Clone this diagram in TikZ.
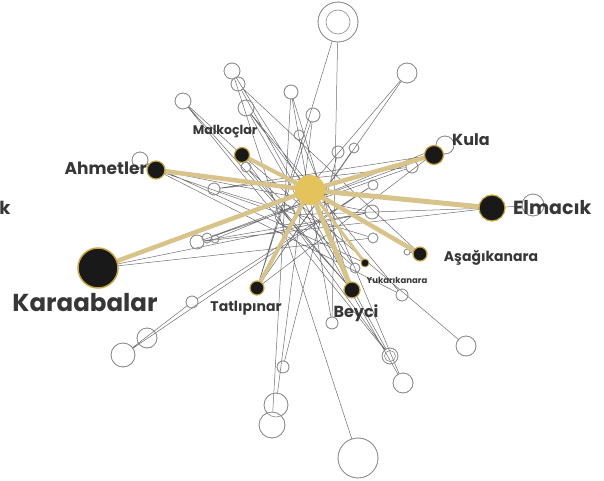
\documentclass[tikz,border=0pt]{standalone}
\usepackage{fontspec}
\setmainfont{Poppins}
\definecolor{goldc}{RGB}{228,194,92}
\definecolor{goldl}{RGB}{216,196,138}
\definecolor{goldr}{RGB}{200,165,70}
\definecolor{greyl}{RGB}{110,110,115}
\definecolor{greyc}{RGB}{140,140,140}
\definecolor{txt}{RGB}{55,55,55}
\tikzset{
  gc/.style={circle,draw=greyc,line width=0.6pt,fill=white,inner sep=0pt,minimum size=#1},
  bn/.style={circle,fill=black!90,draw=goldr,line width=1.2pt,inner sep=0pt,minimum size=#1},
  ge/.style={draw=greyl,line width=0.5pt},
  ye/.style={draw=goldl,line width=#1,line cap=round},
  lab/.style={text=txt,inner sep=0pt,font=\bfseries\fontsize{#1}{#1}\selectfont},
}
\begin{document}
\begin{tikzpicture}[x=1pt,y=-1pt]
\useasboundingbox (0,0) rectangle (604,481);
% grey circles
\node[gc=40pt] (g1) at (338,22) {};
\node[gc=16pt] (g2) at (232,71) {};
\node[gc=14pt] (g3) at (238,84) {};
\node[gc=16pt] (g4) at (183,101) {};
\node[gc=16pt] (g5) at (246,108) {};
\node[gc=14pt] (g6) at (291,92) {};
\node[gc=14pt] (g7) at (313,115) {};
\node[gc=10pt] (g8) at (299,135) {};
\node[gc=20pt] (g9) at (407,73) {};
\node[gc=12pt] (g10) at (338,152) {};
\node[gc=10pt] (g11) at (354,148) {};
\node[gc=12pt] (g12) at (412,167) {};
\node[gc=18pt] (g13) at (445,145) {};
\node[gc=22pt] (g14) at (533,205) {};
\node[gc=16pt] (g15) at (140,160) {};
\node[gc=10pt] (g16) at (246,167) {};
\node[gc=12pt] (g17) at (214,189) {};
\node[gc=10pt] (g18) at (373,185) {};
\node[gc=20pt] (g19) at (285,215) {};
\node[gc=14pt] (g20) at (372,212) {};
\node[gc=14pt] (g21) at (197,242) {};
\node[gc=10pt] (g22) at (207,238) {};
\node[gc=8pt] (g23) at (215,239) {};
\node[gc=10pt] (g24) at (373,238) {};
\node[gc=10pt] (g25) at (355,268) {};
\node[gc=6pt] (g26) at (407,252) {};
\node[gc=12pt] (g27) at (402,295) {};
\node[gc=12pt] (g28) at (332,323) {};
\node[gc=12pt] (g29) at (192,302) {};
\node[gc=20pt] (g30) at (147,338) {};
\node[gc=24pt] (g31) at (123,355) {};
\node[gc=16pt] (g32) at (390,356) {};
\node[gc=20pt] (g33) at (403,383) {};
\node[gc=20pt] (g34) at (466,346) {};
\node[gc=12pt] (g35) at (283,367) {};
\node[gc=24pt] (g36) at (276,405) {};
\node[gc=26pt] (g37) at (272,425) {};
\node[gc=40pt] (g38) at (358,458) {};
% main node positions
\coordinate (c) at (310,190);
\coordinate (ahm) at (156,170);
\coordinate (mal) at (242,155);
\coordinate (kul) at (434,155);
\coordinate (elm) at (492,208);
\coordinate (asa) at (420,254);
\coordinate (yuk) at (365,263);
\coordinate (bey) at (352,290);
\coordinate (tat) at (257,288);
\coordinate (kar) at (98,268);
% grey edges
\path[ge] (g1) -- (tat) (g1) -- (g28) (g9) -- (tat) (g4) -- (mal)
  (g2) -- (g38) (g3) -- (asa) (g5) -- (yuk) (g6) -- (bey) (g7) -- (tat)
  (g7) -- (g36) (g8) -- (g33) (g10) -- (g35) (g11) -- (tat)
  (g12) -- (g17) (ahm) -- (g20) (ahm) -- (g19) (kul) -- (g17)
  (g14) -- (elm) (elm) -- (g19) (elm) -- (g21) (g15) -- (ahm)
  (g16) -- (g25) (g18) -- (g29) (g20) -- (g21) (g29) -- (g31)
  (g31) -- (g18) (g32) -- (mal) (g32) -- (g3) (g32) -- (g4)
  (g33) -- (g5) (g34) -- (mal) (g35) -- (g10) (g37) -- (g6)
  (g21) -- (g12) (g22) -- (kul) (g23) -- (g13) (kar) -- (g20)
  (tat) -- (g13) (bey) -- (g16) (yuk) -- (g15) (g27) -- (g5)
  (g27) -- (ahm) (g28) -- (g6) (g25) -- (g2) (g24) -- (g17)
  (g19) -- (g9) (g26) -- (asa) (g24) -- (kar) (bey) -- (g4);
% grey circle outlines above lines
\foreach \p/\s in {{338,22}/40,{232,71}/16,{238,84}/14,{183,101}/16,{246,108}/16,{291,92}/14,{313,115}/14,{299,135}/10,{407,73}/20,{338,152}/12,{354,148}/10,{412,167}/12,{445,145}/18,{533,205}/22,{140,160}/16,{246,167}/10,{214,189}/12,{373,185}/10,{285,215}/20,{372,212}/14,{197,242}/14,{207,238}/10,{215,239}/8,{373,238}/10,{355,268}/10,{407,252}/6,{402,295}/12,{332,323}/12,{192,302}/12,{147,338}/20,{123,355}/24,{390,356}/16,{403,383}/20,{466,346}/20,{283,367}/12,{276,405}/24,{272,425}/26,{358,458}/40}
  \draw[greyc,line width=0.6pt] (\p) circle[radius=\s/2];
\draw[greyc,line width=0.6pt] (338,22) circle[radius=12];
\draw[greyc,line width=0.6pt] (390,356) circle[radius=5.5];
% gold edges
\draw[ye=4.5pt] (c) -- (ahm);
\draw[ye=4pt] (c) -- (mal);
\draw[ye=4.5pt] (c) -- (kul);
\draw[ye=5pt] (c) -- (elm);
\draw[ye=4.5pt] (c) -- (asa);
\draw[ye=3pt] (c) -- (yuk);
\draw[ye=5pt] (c) -- (bey);
\draw[ye=4pt] (c) -- (tat);
\draw[ye=4.5pt] (c) -- (kar);
% main nodes
\node[circle,fill=goldc,inner sep=0pt,minimum size=30pt] (cn) at (c) {};
\node[bn=18pt] (nahm) at (ahm) {};
\node[bn=15pt] (nmal) at (mal) {};
\node[bn=19pt] (nkul) at (kul) {};
\node[bn=26pt] (nelm) at (elm) {};
\node[bn=14pt] (nasa) at (asa) {};
\node[bn=8pt,line width=0.8pt] (nyuk) at (yuk) {};
\node[bn=16pt] (nbey) at (bey) {};
\node[bn=14pt] (ntat) at (tat) {};
\node[bn=40pt,line width=1.5pt] (nkar) at (kar) {};
% labels
\node[lab=17pt,anchor=east] (lahm) at (147,168) {Ahmetler};
\node[lab=12.5pt] (lmal) at (225,132) {Malkoçlar};
\node[lab=16pt] (lkul) at (471,140) {Kula};
\node[lab=19pt,anchor=west] (lelm) at (513,208) {Elmacık};
\node[lab=14pt] (lasa) at (491,258) {Aşağıkanara};
\node[lab=8.5pt] (lyuk) at (397,280) {Yukarıkanara};
\node[lab=16pt] (lbey) at (356,313) {Beyci};
\node[lab=14pt] (ltat) at (246,308) {Tatlıpınar};
\node[lab=24.5pt] (lkar) at (85,303) {Karaabalar};
\node[lab=18pt] (lk) at (5,208) {k};
\end{tikzpicture}
\end{document}
